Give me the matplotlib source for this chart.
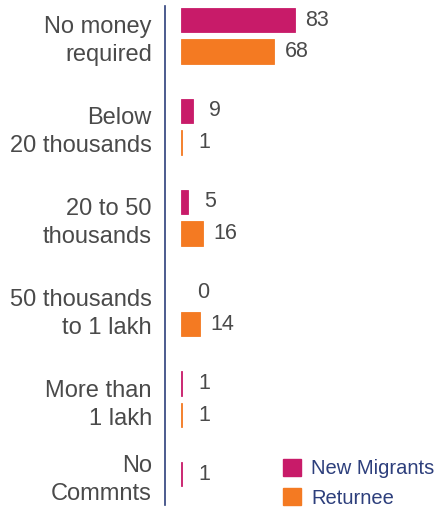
import numpy as np
import matplotlib
matplotlib.use('Agg')
import matplotlib.pyplot as plt
from matplotlib.patches import Patch

# データ
categories = ['No money\nrequired', 'Below\n20 thousands', '20 to 50\nthousands',
              '50 thousands\nto 1 lakh', 'More than\n1 lakh', 'No\nCommnts']
new_migrants = [83, 9, 5, 0, 1, 1]
returnee = [68, 1, 16, 14, 1, None]
series_names = ['New Migrants', 'Returnee']

magenta = '#C81B69'
orange = '#F47A22'
navy = '#2D3F7C'
text_gray = '#4A4A4A'

plt.rcParams['font.family'] = ['Liberation Sans', 'DejaVu Sans']

fig = plt.figure(figsize=(4.39, 5.11), dpi=100)
ax = fig.add_axes([0.376, 0.0117, 0.624, 0.9766])

y = np.arange(len(categories))
off = 0.174
h = 0.27

for vals, color, dy in [(new_migrants, magenta, -off), (returnee, orange, off)]:
    for i, v in enumerate(vals):
        if v is None:
            continue
        if v > 0:
            ax.barh(y[i] + dy, v, height=h, color=color, edgecolor=color, linewidth=0.6)
        ax.annotate(str(v), xy=(v, y[i] + dy), xytext=(15.8, 0),
                    textcoords='offset points', ha='center', va='center',
                    fontsize=15.5, color=text_gray)

# 最後のカテゴリはバーが1本だけなので、そのバーの位置にラベルを置く
tick_pos = [p if returnee[i] is not None else p - off for i, p in enumerate(y)]

ax.set_ylim(5.165, -0.33)
ax.set_xlim(-11.7, 188)
ax.set_yticks(tick_pos)
ax.set_yticklabels(categories, fontsize=17, color=text_gray, linespacing=1.35)
ax.tick_params(axis='y', length=0, pad=9.5)
ax.set_xticks([])
for s in ['top', 'right', 'bottom']:
    ax.spines[s].set_visible(False)
ax.spines['left'].set_color(navy)
ax.spines['left'].set_linewidth(1.2)
ax.patch.set_alpha(0)

handles = [Patch(color=magenta), Patch(color=orange)]
leg = fig.legend(handles, series_names, loc='upper left', bbox_to_anchor=(0.645, 0.102),
                 frameon=False, fontsize=14.5, handlelength=0.9, handleheight=0.9,
                 handletextpad=0.5, labelspacing=0.5, borderpad=0, borderaxespad=0)
for t in leg.get_texts():
    t.set_color(navy)

fig.savefig('out.png', dpi=100)
